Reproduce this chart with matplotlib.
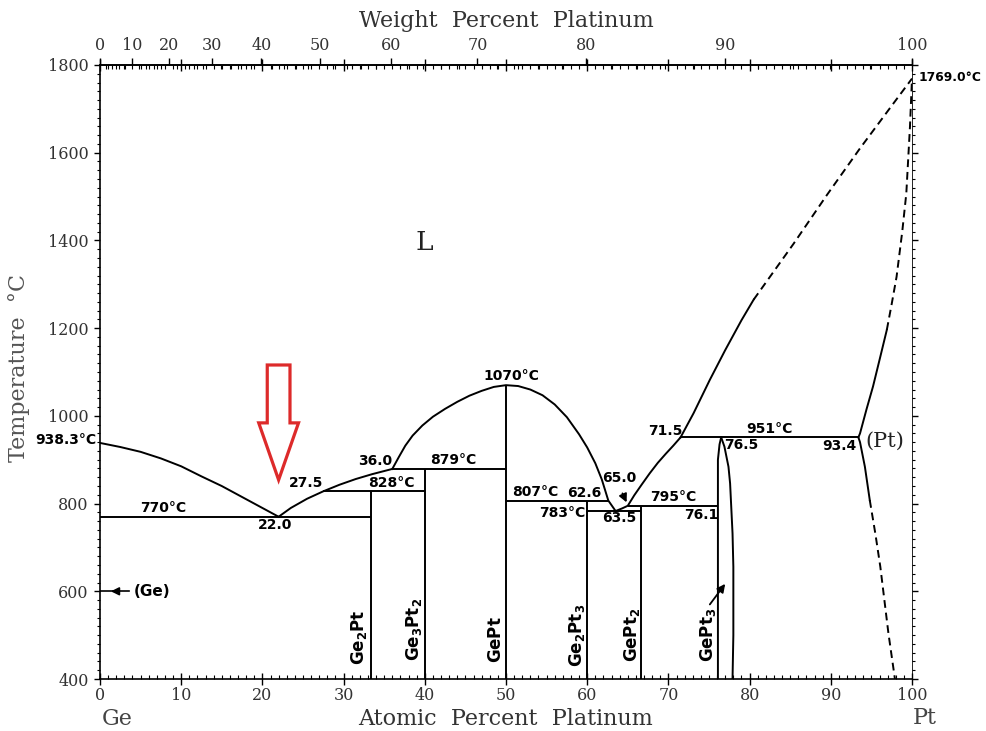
import numpy as np
import matplotlib.pyplot as plt
from matplotlib.patches import FancyArrow
from matplotlib.ticker import MultipleLocator

plt.rcParams['font.family'] = 'DejaVu Serif'

M_GE = 72.63
M_PT = 195.08

# phase boundaries, atomic % Pt vs temperature (deg C)
liq_ge_x = [0.0, 2.5, 5.0, 7.5, 10.0, 12.5, 15.0, 17.5, 20.0, 22.0]
liq_ge_t = [938.3, 929, 918, 903, 885, 862, 840, 815, 790, 770]

liq_ge2pt_x = [22.0, 23.5, 25.5, 27.5, 29.5, 31.5, 33.5, 36.0]
liq_ge2pt_t = [770, 790, 811, 828, 843, 856, 867, 879]

liq_gept_x = [36.0, 36.8, 37.6, 38.5, 39.7, 41.0, 42.5, 44.0, 45.5, 47.0,
              48.5, 50.0, 51.5, 53.0, 54.5, 56.0, 57.5, 59.0, 60.0, 61.0,
              61.8, 62.6, 63.5]
liq_gept_t = [879, 906, 932, 955, 978, 998, 1016, 1032, 1046, 1057,
              1066, 1070, 1068, 1060, 1047, 1026, 997, 958, 928, 892,
              855, 807, 783]

liq_gept2_x = [63.5, 64.3, 65.0, 65.8, 66.7, 67.7, 68.7, 69.7, 70.6, 71.5]
liq_gept2_t = [783, 789, 795, 819, 843, 869, 893, 914, 932, 951]

liq_pt_x = [71.5, 73.1, 75.1, 77.0, 79.0, 80.5]
liq_pt_t = [951, 1006, 1082, 1150, 1218, 1265]
liq_pt_dash_x = [80.5, 85.4, 89.5, 93.6, 97.7, 100.0]
liq_pt_dash_t = [1265, 1392, 1503, 1610, 1712, 1769]

sol_pt_x = [93.4, 93.6, 94.4, 95.2, 96.1, 96.9]
sol_pt_t = [951, 960, 1015, 1067, 1135, 1196]
sol_pt_dash_x = [96.9, 97.5, 98.1, 98.8, 99.3, 99.75, 100.0]
sol_pt_dash_t = [1196, 1255, 1317, 1420, 1507, 1659, 1769]

solv_pt_x = [93.4, 93.6, 94.2, 94.8]
solv_pt_t = [951, 940, 884, 808]
solv_pt_dash_x = [94.8, 95.5, 96.1, 97.1, 97.9]
solv_pt_dash_t = [808, 730, 656, 504, 400]

gept3_left_x = [76.1, 76.1, 76.3, 76.5]
gept3_left_t = [400, 900, 935, 951]
gept3_right_x = [76.5, 76.9, 77.4, 77.6, 77.9, 78.0, 78.0, 77.9]
gept3_right_t = [951, 930, 884, 846, 732, 656, 500, 400]

# invariant reactions: temperature, from, to
iso_t = [770, 828, 879, 807, 783, 795, 951]
iso_x0 = [0.0, 27.5, 36.0, 50.0, 60.0, 65.0, 71.5]
iso_x1 = [33.33, 40.0, 50.0, 62.6, 66.67, 76.1, 93.4]

# line compounds: composition and upper temperature
comp_x = [33.33, 40.0, 50.0, 60.0, 66.67]
comp_top = [828, 879, 1070, 807, 795]
comp_names = [r'$\mathbf{Ge_2Pt}$', r'$\mathbf{Ge_3Pt_2}$', r'$\mathbf{GePt}$',
              r'$\mathbf{Ge_2Pt_3}$', r'$\mathbf{GePt_2}$', r'$\mathbf{GePt_3}$']
comp_label_x = [31.9, 38.7, 48.8, 58.7, 65.5, 74.9]
comp_label_t = [496, 512, 489, 500, 500, 500]

T_MIN = 400
eutectic_x = 22.0


def at2wt(a):
    a = np.asarray(a, dtype=float)
    with np.errstate(divide='ignore', invalid='ignore'):
        return 100 * a * M_PT / (a * M_PT + (100 - a) * M_GE)


def wt2at(w):
    w = np.asarray(w, dtype=float)
    with np.errstate(divide='ignore', invalid='ignore'):
        return 100 * (w / M_PT) / (w / M_PT + (100 - w) / M_GE)


fig = plt.figure(figsize=(9.87, 7.31), dpi=100)
ax = fig.add_axes([0.1013, 0.0711, 0.8227, 0.84])

lw = 1.4
dash = (0, (4, 2.5))
k = 'black'

ax.plot(liq_ge_x, liq_ge_t, color=k, lw=lw)
ax.plot(liq_ge2pt_x, liq_ge2pt_t, color=k, lw=lw)
ax.plot(liq_gept_x, liq_gept_t, color=k, lw=lw)
ax.plot(liq_gept2_x, liq_gept2_t, color=k, lw=lw)
ax.plot(liq_pt_x, liq_pt_t, color=k, lw=lw)
ax.plot(liq_pt_dash_x, liq_pt_dash_t, color=k, lw=lw, ls=dash)
ax.plot(sol_pt_x, sol_pt_t, color=k, lw=lw)
ax.plot(sol_pt_dash_x, sol_pt_dash_t, color=k, lw=lw, ls=dash)
ax.plot(solv_pt_x, solv_pt_t, color=k, lw=lw)
ax.plot(solv_pt_dash_x, solv_pt_dash_t, color=k, lw=lw, ls=dash)
ax.plot(gept3_left_x, gept3_left_t, color=k, lw=lw)
ax.plot(gept3_right_x, gept3_right_t, color=k, lw=lw)

ax.hlines(iso_t, iso_x0, iso_x1, colors=k, lw=lw)
ax.vlines(comp_x, T_MIN, comp_top, colors=k, lw=lw)

ax.set_xlim(0, 100)
ax.set_ylim(T_MIN, 1800)

# annotations
sans = dict(family='DejaVu Sans', fontweight='bold', fontsize=10, color='black')
ax.text(-0.4, 945, '938.3°C', ha='right', va='center', clip_on=False, **sans)
ax.text(7.8, 791, '770°C', ha='center', va='center', **sans)
ax.text(21.6, 751, '22.0', ha='center', va='center', **sans)
ax.text(25.4, 846, '27.5', ha='center', va='center', **sans)
ax.text(33.9, 897, '36.0', ha='center', va='center', **sans)
ax.text(35.9, 846, '828°C', ha='center', va='center', **sans)
ax.text(43.5, 899, '879°C', ha='center', va='center', **sans)
ax.text(50.7, 1091, '1070°C', ha='center', va='center', **sans)
ax.text(53.6, 827, '807°C', ha='center', va='center', **sans)
ax.text(59.6, 825, '62.6', ha='center', va='center', **sans)
ax.text(56.9, 778, '783°C', ha='center', va='center', **sans)
ax.text(64.0, 766, '63.5', ha='center', va='center', **sans)
ax.text(64.0, 858, '65.0', ha='center', va='center', **sans)
ax.text(70.6, 814, '795°C', ha='center', va='center', **sans)
ax.text(74.1, 774, '76.1', ha='center', va='center', **sans)
ax.text(69.6, 966, '71.5', ha='center', va='center', **sans)
ax.text(82.5, 969, '951°C', ha='center', va='center', **sans)
ax.text(79.0, 934, '76.5', ha='center', va='center', **sans)
ax.text(91.1, 931, '93.4', ha='center', va='center', **sans)
ax.text(100.8, 1772, '1769.0°C', ha='left', va='center', clip_on=False,
        family='DejaVu Sans', fontweight='bold', fontsize=8.8)
ax.text(96.7, 941, '(Pt)', ha='center', va='center', fontsize=15, color='#222')
ax.text(40.0, 1396, 'L', ha='center', va='center', fontsize=19, color='#222')
ax.text(6.4, 599, '(Ge)', ha='center', va='center', family='DejaVu Sans',
        fontweight='bold', fontsize=11)

ax.plot([0, 3.6], [600, 600], color=k, lw=1.2)
ax.annotate('', xy=(1.0, 600), xytext=(2.2, 600),
            arrowprops=dict(arrowstyle='-|>', color=k, lw=1.2, mutation_scale=12))
ax.annotate('', xy=(65.0, 797), xytext=(64.2, 829),
            arrowprops=dict(arrowstyle='-|>', color=k, lw=1.3, mutation_scale=12))
ax.annotate('', xy=(77.2, 622), xytext=(74.9, 565),
            arrowprops=dict(arrowstyle='-|>', color=k, lw=1.3, mutation_scale=12))

for name, x, t in zip(comp_names, comp_label_x, comp_label_t):
    ax.text(x, t, name, rotation=90, ha='center', va='center', fontsize=12)

# red marker arrow pointing at the Ge-rich eutectic
ax.add_patch(FancyArrow(eutectic_x, 1116, 0, -262, width=2.8, head_width=4.9,
                        head_length=130, length_includes_head=True,
                        fill=False, edgecolor='#dd2a2a', lw=2.3))

# axes and ticks
tick_col = '#333333'
ax.xaxis.set_major_locator(MultipleLocator(10))
ax.xaxis.set_minor_locator(MultipleLocator(1))
ax.yaxis.set_major_locator(MultipleLocator(200))
ax.yaxis.set_minor_locator(MultipleLocator(20))
ax.tick_params(axis='x', which='major', direction='inout', length=8, width=1,
               top=True, labelsize=11.5, labelcolor=tick_col, pad=2)
ax.tick_params(axis='x', which='minor', direction='in', length=3, width=0.8, top=True)
ax.tick_params(axis='y', which='major', direction='out', length=4.5, width=1,
               right=True, labelsize=11.5, labelcolor=tick_col)
ax.tick_params(axis='y', which='minor', direction='out', length=2.5, width=0.8, right=True)
for s in ['left', 'bottom', 'top']:
    ax.spines[s].set_linewidth(1.2)
ax.spines['right'].set_linewidth(0.6)

secax = ax.secondary_xaxis('top', functions=(at2wt, wt2at))
secax.set_xticks(np.arange(0, 101, 10))
secax.xaxis.set_minor_locator(MultipleLocator(2))
secax.tick_params(which='major', direction='out', length=5, width=1,
                  labelsize=11.5, labelcolor=tick_col, pad=3)
secax.tick_params(which='minor', direction='in', length=3, width=0.8)
secax.spines['top'].set_linewidth(1.2)
secax.set_xlabel('Weight  Percent  Platinum', fontsize=16, color=tick_col, labelpad=7)

ax.set_xlabel('Atomic  Percent  Platinum', fontsize=16, color=tick_col)
ax.xaxis.set_label_coords(0.5, -0.047)
ax.set_ylabel('Temperature  °C', fontsize=16, color='#555555')
ax.yaxis.set_label_coords(-0.086, 0.506)

ax.text(2.1, 308, 'Ge', ha='center', va='center', fontsize=16, color='#444', clip_on=False)
ax.text(101.6, 311, 'Pt', ha='center', va='center', fontsize=16, color='#444', clip_on=False)

fig.savefig('out.png', dpi=100)
